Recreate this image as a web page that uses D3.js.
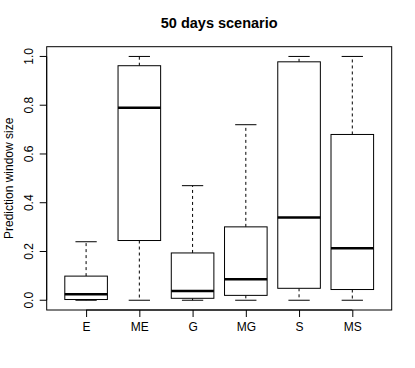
<!DOCTYPE html>
<html>
<head>
<meta charset="utf-8">
<script src="https://cdn.jsdelivr.net/npm/d3@7"></script>
<style>
  body { margin: 0; background: #fff; }
  text { font-family: "Liberation Sans", Arial, sans-serif; fill: #000; }
</style>
</head>
<body>
<div id="chart"></div>
<script>
const categories = ["E", "ME", "G", "MG", "S", "MS"]
const lowWhisker = [0, 0, 0, 0, 0, 0]
const q1 = [0.003, 0.245, 0.008, 0.02, 0.049, 0.044]
const median = [0.025, 0.79, 0.038, 0.086, 0.339, 0.213]
const q3 = [0.099, 0.962, 0.194, 0.301, 0.978, 0.68]
const highWhisker = [0.24, 1.0, 0.47, 0.72, 1.0, 1.0]
const yTicks = [0, 0.2, 0.4, 0.6, 0.8, 1.0]

const W = 415, H = 368
const margin = {top: 46.7, right: 23.3, bottom: 58, left: 46.7}
const width = W - margin.left - margin.right
const height = H - margin.top - margin.bottom

const data = categories.map((c, i) => ({
    name: c, lo: lowWhisker[i], q1: q1[i], med: median[i], q3: q3[i], hi: highWhisker[i]
}))

const svg = d3.select("#chart")
    .append("svg")
    .attr("width", W)
    .attr("height", H)

const g = svg.append("g")
    .attr("transform", "translate(" + margin.left + "," + margin.top + ")")

// R style: 4% padding on each side
const x = d3.scaleLinear()
    .domain([0.26, 6.74])
    .range([0, width])

const y = d3.scaleLinear()
    .domain([-0.04, 1.04])
    .range([height, 0])

const unit = x(1) - x(0)
const boxW = 0.8 * unit
const stapleW = 0.4 * unit

// frame
g.append("rect")
    .attr("x", 0).attr("y", 0)
    .attr("width", width).attr("height", height)
    .attr("fill", "none")
    .attr("stroke", "#000")

// y axis
const yAxis = d3.axisLeft(y)
    .tickValues(yTicks)
    .tickSize(7)
    .tickFormat(d3.format(".1f"))
const ya = g.append("g").call(yAxis)
ya.select(".domain").attr("d", "M0," + y(0) + "V" + y(1))
ya.selectAll("line").attr("stroke", "#000")
ya.selectAll("text")
    .attr("font-size", "12px")
    .attr("transform", d => "rotate(-90," + (-13.5) + "," + y(d) + ")")
    .attr("x", -13.5)
    .attr("y", y0 => y(y0))
    .attr("dy", "0")
    .attr("text-anchor", "middle")
ya.selectAll(".tick").attr("transform", null)
ya.selectAll(".tick line").attr("y1", d => y(d)).attr("y2", d => y(d))

// x axis
const xAxis = d3.axisBottom(x)
    .tickValues(d3.range(1, categories.length + 1))
    .tickSize(7)
    .tickPadding(5)
    .tickFormat(d => categories[d - 1])
const xa = g.append("g")
    .attr("transform", "translate(0," + height + ")")
    .call(xAxis)
xa.select(".domain").attr("d", "M" + x(1) + ",0H" + x(categories.length))
xa.selectAll("line").attr("stroke", "#000")
xa.selectAll("text").attr("font-size", "12px")

// boxes
const box = g.selectAll(".box")
    .data(data)
    .enter()
    .append("g")
    .attr("class", "box")
    .attr("transform", (d, i) => "translate(" + x(i + 1) + ",0)")

box.append("line")
    .attr("y1", d => y(d.q3)).attr("y2", d => y(d.hi))
    .attr("stroke", "#000").attr("stroke-dasharray", "3,3")
box.append("line")
    .attr("y1", d => y(d.q1)).attr("y2", d => y(d.lo))
    .attr("stroke", "#000").attr("stroke-dasharray", "3,3")
box.append("line")
    .attr("x1", -stapleW / 2).attr("x2", stapleW / 2)
    .attr("y1", d => y(d.hi)).attr("y2", d => y(d.hi))
    .attr("stroke", "#000")
box.append("line")
    .attr("x1", -stapleW / 2).attr("x2", stapleW / 2)
    .attr("y1", d => y(d.lo)).attr("y2", d => y(d.lo))
    .attr("stroke", "#000")
box.append("rect")
    .attr("x", -boxW / 2)
    .attr("width", boxW)
    .attr("y", d => y(d.q3))
    .attr("height", d => y(d.q1) - y(d.q3))
    .attr("fill", "#fff")
    .attr("stroke", "#000")
box.append("line")
    .attr("x1", -boxW / 2).attr("x2", boxW / 2)
    .attr("y1", d => y(d.med)).attr("y2", d => y(d.med))
    .attr("stroke", "#000").attr("stroke-width", 2.5)

// title
svg.append("text")
    .attr("x", margin.left + width / 2)
    .attr("y", 28)
    .attr("text-anchor", "middle")
    .attr("font-size", "14.5px")
    .attr("font-weight", "bold")
    .text("50 days scenario")

// y label
svg.append("text")
    .attr("transform", "translate(12.5," + (margin.top + height / 2) + ") rotate(-90)")
    .attr("text-anchor", "middle")
    .attr("font-size", "12px")
    .text("Prediction window size")
</script>
</body>
</html>
